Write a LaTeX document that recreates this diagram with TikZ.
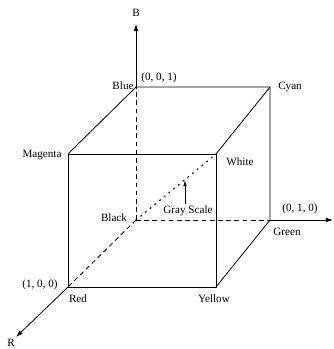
\documentclass[tikz,border=0pt]{standalone}
\usepackage{fontspec}
\setmainfont{Liberation Serif}
\usetikzlibrary{arrows.meta}
\newcommand{\corner}[3]{\coordinate (#1) at (#2,#3);}
\tikzset{
  lbl/.style={font=\fontsize{9.5}{11}\selectfont,inner sep=0pt},
  edge/.style={line width=0.7pt},
  hidden/.style={line width=0.7pt,dash pattern=on 4pt off 3pt},
  axis/.style={line width=0.7pt,-{Latex[length=6pt,width=4pt]}}
}
\begin{document}
\begin{tikzpicture}[x=0.03cm,y=-0.03cm]
\useasboundingbox (0,0) rectangle (333,349);
% ---- corners of the cube ----
\corner{black}{136}{220}
\corner{blue}{136}{87}
\corner{cyan}{270}{87}
\corner{green}{270}{220}
\corner{magenta}{68}{154}
\corner{white}{216}{154}
\corner{red}{68}{287}
\corner{yellow}{216}{287}
% ---- axis ends ----
\corner{btip}{136}{24}
\corner{gtip}{333}{220}
\corner{rtip}{16}{337}
% ---- visible edges ----
\draw[edge] (magenta) rectangle (yellow);
\draw[edge] (magenta) -- (blue) -- (cyan) -- (green);
\draw[edge] (cyan) -- (white);
\draw[edge] (green) -- (yellow);
% ---- hidden edges ----
\draw[hidden] (black) -- (blue);
\draw[hidden] (black) -- (green);
\draw[hidden] (black) -- (red);
\draw[line width=1pt,dash pattern=on 1pt off 4.2pt,line cap=round] (black) -- (white);
% ---- axes ----
\draw[axis] (blue) -- (btip);
\draw[axis] (green) -- (gtip);
\draw[axis] (red) -- (rtip);
% ---- labels ----
\node[lbl] (lb) at (136,13) {B};
\node[lbl] (lr) at (11,343) {R};
\node[lbl] (lblue) at (123,86) {Blue};
\node[lbl] (l001) at (159,78) {(0, 0, 1)};
\node[lbl] (lcyan) at (290,87) {Cyan};
\node[lbl] (lmagenta) at (42,155) {Magenta};
\node[lbl] (lwhite) at (240,162) {White};
\node[lbl] (lblack) at (114,218) {Black};
\node[lbl] (l010) at (300,209) {(0, 1, 0)};
\node[lbl] (lgreen) at (287,232) {Green};
\node[lbl] (l100) at (40,285) {(1, 0, 0)};
\node[lbl] (lred) at (78,299) {Red};
\node[lbl] (lyellow) at (214,299) {Yellow};
\node[lbl] (lgray) at (188,211) {Gray Scale};
\coordinate (gstip) at (185,180);
\draw[line width=0.7pt,-{Latex[length=5pt,width=3pt]}] (lgray.north -| gstip) ++(0,-2) -- (gstip);
\end{tikzpicture}
\end{document}
